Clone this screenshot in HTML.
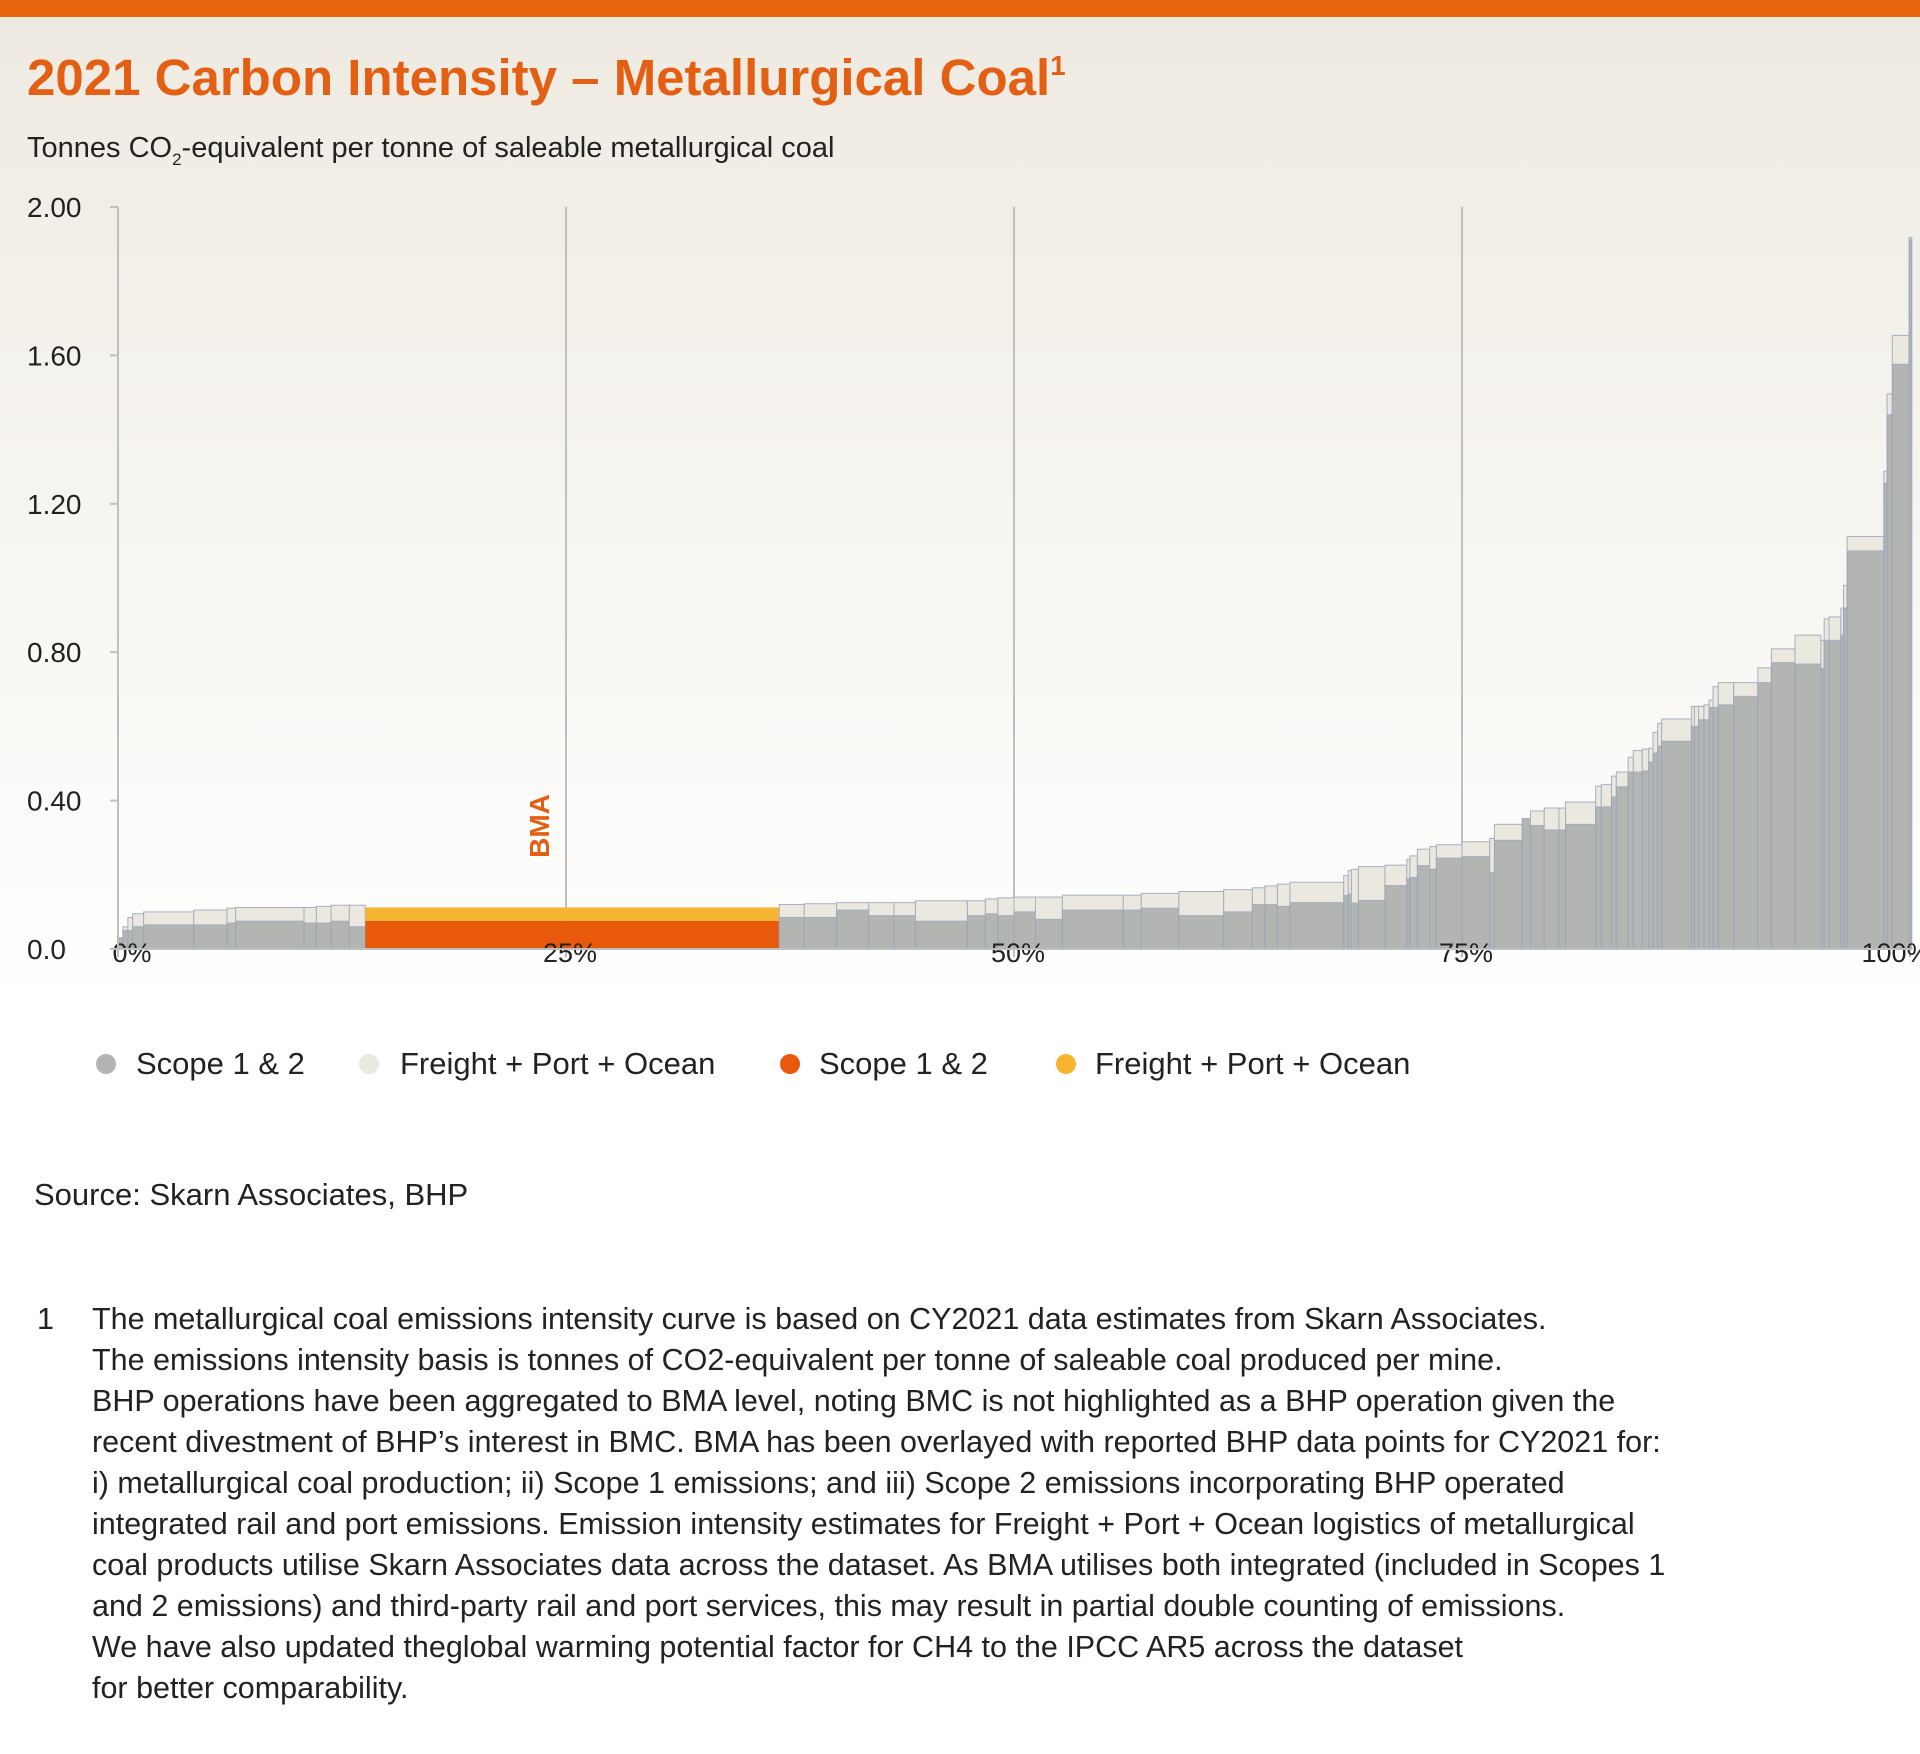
<!DOCTYPE html>
<html><head><meta charset="utf-8">
<style>
html,body{margin:0;padding:0;}
body{width:1920px;height:1749px;overflow:hidden;background:#fff;font-family:"Liberation Sans",Arial,sans-serif;}
</style></head>
<body>
<svg id="chart" width="1920" height="1749" viewBox="0 0 1920 1749" xmlns="http://www.w3.org/2000/svg" font-family="Liberation Sans, Arial, sans-serif">
<defs>
<linearGradient id="bg" x1="0" y1="0" x2="0" y2="1">
<stop offset="0" stop-color="#eeeae1"/><stop offset="1" stop-color="#ffffff"/>
</linearGradient>
</defs>
<rect x="0" y="0" width="1920" height="1000" fill="url(#bg)"/>
<rect x="0" y="0" width="1920" height="17" fill="#e8650f"/>
<text x="27" y="95" font-size="51" font-weight="bold" fill="#e35f14">2021 Carbon Intensity – Metallurgical Coal<tspan font-size="28" dy="-20">1</tspan></text>
<text x="27" y="157" font-size="29" fill="#222">Tonnes CO<tspan font-size="17" dy="8">2</tspan><tspan dy="-8">-equivalent per tonne of saleable metallurgical coal</tspan></text>
<g id="grid"></g>
<g id="bars"></g>
<g id="axes"></g>
<text transform="translate(549,826) rotate(-90)" text-anchor="middle" font-size="28" font-weight="bold" fill="#e35f14">BMA</text>
<g font-size="31" fill="#222">
<g><circle cx="106" cy="1064" r="10" fill="#b3b5b3"/><text x="136" y="1074">Scope 1 &amp; 2</text></g>
<g><circle cx="369" cy="1064" r="10" fill="#ebe8df"/><text x="400" y="1074">Freight + Port + Ocean</text></g>
<g><circle cx="790" cy="1064" r="10" fill="#e8590c"/><text x="819" y="1074">Scope 1 &amp; 2</text></g>
<g><circle cx="1066" cy="1064" r="10" fill="#f6b531"/><text x="1095" y="1074">Freight + Port + Ocean</text></g>
</g>
<text x="34" y="1205" font-size="31" fill="#222">Source: Skarn Associates, BHP</text>
<g font-size="30.5" fill="#222">
<text x="37" y="1329">1</text>
<text x="92" y="1329">The metallurgical coal emissions intensity curve is based on CY2021 data estimates from Skarn Associates.</text>
<text x="92" y="1370">The emissions intensity basis is tonnes of CO2-equivalent per tonne of saleable coal produced per mine.</text>
<text x="92" y="1411">BHP operations have been aggregated to BMA level, noting BMC is not highlighted as a BHP operation given the</text>
<text x="92" y="1452">recent divestment of BHP’s interest in BMC. BMA has been overlayed with reported BHP data points for CY2021 for:</text>
<text x="92" y="1493">i) metallurgical coal production; ii) Scope 1 emissions; and iii) Scope 2 emissions incorporating BHP operated</text>
<text x="92" y="1534">integrated rail and port emissions. Emission intensity estimates for Freight + Port + Ocean logistics of metallurgical</text>
<text x="92" y="1575">coal products utilise Skarn Associates data across the dataset. As BMA utilises both integrated (included in Scopes 1</text>
<text x="92" y="1616">and 2 emissions) and third-party rail and port services, this may result in partial double counting of emissions.</text>
<text x="92" y="1657">We have also updated theglobal warming potential factor for CH4 to the IPCC AR5 across the dataset</text>
<text x="92" y="1698">for better comparability.</text>
</g>
</svg>
<script>
// cumulative production share (%) at the right edge of each mine
const mineEnd = [0.27,0.55,0.82,1.43,4.23,6.08,6.56,10.38,11.07,11.89,12.91,13.8,36.9,38.3,40.1,41.9,43.3,44.5,47.4,48.4,49.1,50.0,51.2,52.7,56.1,57.1,59.2,61.7,63.3,64.0,64.7,65.4,68.4,
68.65,68.83,69.22,70.70,71.92,72.09,72.51,73.20,73.57,75.00,76.55,76.81,78.36,78.82,79.59,80.41,80.78,82.46,82.77,83.34,83.61,84.27,84.56,85.06,85.42,85.66,85.92,86.14,87.80,87.97,88.20,88.50,88.79,89.01,89.30,90.16,91.51,92.26,93.58,95.03,95.21,95.48,96.14,96.29,96.49,98.54,98.72,99.01,99.95,100.1];
// Scope 1 & 2 intensity
const scope12 = [0.03,0.05,0.05,0.06,0.065,0.065,0.07,0.075,0.07,0.07,0.075,0.06,0.076,0.085,0.085,0.105,0.09,0.09,0.075,0.09,0.095,0.09,0.10,0.08,0.105,0.105,0.11,0.09,0.10,0.12,0.12,0.115,0.125,
0.144,0.148,0.124,0.131,0.171,0.189,0.193,0.225,0.215,0.245,0.249,0.206,0.293,0.349,0.333,0.321,0.321,0.336,0.383,0.383,0.410,0.437,0.477,0.477,0.480,0.504,0.528,0.547,0.560,0.600,0.600,0.618,0.618,0.651,0.651,0.658,0.681,0.718,0.772,0.768,0.756,0.832,0.832,0.846,0.919,1.073,1.255,1.440,1.576,1.912];
// Scope 1 & 2 + Freight + Port + Ocean intensity
const totalIntensity = [0.03,0.06,0.085,0.095,0.10,0.105,0.11,0.112,0.112,0.115,0.118,0.118,0.112,0.12,0.122,0.125,0.125,0.125,0.13,0.13,0.135,0.138,0.14,0.14,0.145,0.145,0.15,0.155,0.16,0.165,0.17,0.175,0.18,
0.198,0.211,0.215,0.222,0.226,0.242,0.251,0.269,0.276,0.281,0.289,0.298,0.336,0.352,0.372,0.380,0.380,0.396,0.439,0.443,0.466,0.477,0.517,0.535,0.539,0.541,0.584,0.608,0.620,0.654,0.654,0.654,0.658,0.671,0.707,0.718,0.718,0.758,0.809,0.846,0.832,0.890,0.895,0.919,0.980,1.112,1.288,1.496,1.654,1.918];
const bmaIndex = 12;
const yTicks = [0, 0.4, 0.8, 1.2, 1.6, 2.0];
const yTickLabels = ["0.0","0.40","0.80","1.20","1.60","2.00"];
const xTicks = [0, 25, 50, 75, 100];
const xTickLabels = ["0%","25%","50%","75%","100%"];

const NS = "http://www.w3.org/2000/svg";
const X0 = 118, X1 = 1910, Y0 = 949, Y1 = 207;
function xScale(p){ return X0 + (X1 - X0) * p / 100; }
function yScale(v){ return Y0 - (Y0 - Y1) * v / 2.0; }
function mk(tag, attrs, parent){ const e = document.createElementNS(NS, tag); for (const k in attrs) e.setAttribute(k, attrs[k]); parent.appendChild(e); return e; }

const grid = document.getElementById('grid');
const bars = document.getElementById('bars');
const axes = document.getElementById('axes');

xTicks.forEach((t, i) => {
  if (t > 0 && t < 100) {
    const g = mk('line', {x1: xScale(t), x2: xScale(t), y1: Y1, y2: Y0, stroke: '#bfbfbf', 'stroke-width': 2}, grid);
    
    
  }
  const tk = mk('line', {x1: xScale(t), x2: xScale(t), y1: Y0, y2: Y0 + 8, stroke: '#bfbfbf', 'stroke-width': 2}, axes);
  
  
  const lb = mk('text', {x: xScale(t) + (t === 0 ? 14 : (t === 100 ? -14 : 4)), y: 962, 'font-size': 27, fill: '#222', 'text-anchor': 'middle'}, axes);
  lb.textContent = xTickLabels[i];
  
  
});

let prev = 0;
mineEnd.forEach((end, i) => {
  const xa = xScale(prev), xb = xScale(end);
  const isBma = i === bmaIndex;
  const s = mk('rect', {x: xa, y: yScale(scope12[i]), width: Math.max(xb - xa, 0.5), height: Y0 - yScale(scope12[i]),
    fill: isBma ? '#e8590c' : '#b3b5b3', stroke: isBma ? 'none' : '#9aa5bd', 'stroke-width': 1}, bars);
  
  
  const f = mk('rect', {x: xa, y: yScale(totalIntensity[i]), width: Math.max(xb - xa, 0.5), height: yScale(scope12[i]) - yScale(totalIntensity[i]),
    fill: isBma ? '#f6b531' : '#ebe8df', stroke: isBma ? 'none' : '#a7afc0', 'stroke-width': 1}, bars);
  
  
  prev = end;
});

const ya = mk('line', {x1: X0, x2: X0, y1: Y1, y2: Y0, stroke: '#bfbfbf', 'stroke-width': 2}, axes);


const xa = mk('line', {x1: X0, x2: X1, y1: Y0, y2: Y0, stroke: '#bfbfbf', 'stroke-width': 2}, axes);


yTicks.forEach((t, i) => {
  const tk = mk('line', {x1: X0 - 8, x2: X0, y1: yScale(t), y2: yScale(t), stroke: '#bfbfbf', 'stroke-width': 2}, axes);
  
  
  const lb = mk('text', {x: 27, y: yScale(t) + 10, 'font-size': 28, fill: '#222'}, axes);
  lb.textContent = yTickLabels[i];
  
  
});
</script>
</body></html>
